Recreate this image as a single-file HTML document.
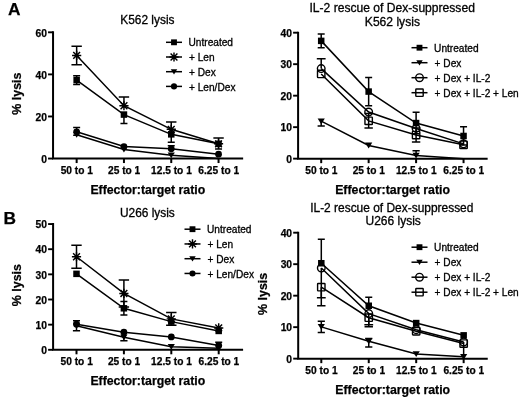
<!DOCTYPE html>
<html><head><meta charset="utf-8"><style>
html,body{margin:0;padding:0;background:#fff;}
svg{display:block;font-family:"Liberation Sans", sans-serif;will-change:transform;}
</style></head><body>
<svg width="520" height="400" viewBox="0 0 520 400" font-family='"Liberation Sans", sans-serif'>
<defs><filter id="bl" x="0" y="0" width="100%" height="100%"><feGaussianBlur stdDeviation="0.3"/></filter></defs>
<rect width="520" height="400" fill="#fff"/>
<g filter="url(#bl)">
<text x="7.9" y="15" font-size="17.3" font-weight="bold" stroke="#000" stroke-width="0.25" text-anchor="start">A</text>
<text x="3.6" y="223.8" font-size="17.3" font-weight="bold" stroke="#000" stroke-width="0.25" text-anchor="start">B</text>
<path d="M76.65,134.77L123.95,149.5L171.25,155.18L218.55,158.55" stroke="#000" stroke-width="1.5" fill="none"/>
<path d="M76.65,131.83L123.95,146.56L171.25,148.87L218.55,154.13" stroke="#000" stroke-width="1.5" fill="none"/>
<path d="M76.65,80.07L123.95,114.58L171.25,134.35L218.55,143.82" stroke="#000" stroke-width="1.5" fill="none"/>
<path d="M76.65,55.45L123.95,105.74L171.25,129.3L218.55,143.82" stroke="#000" stroke-width="1.5" fill="none"/>
<path d="M76.65,127.62V135.2M73.15,127.62H80.15M73.15,135.2H80.15" stroke="#000" stroke-width="1.5" fill="none"/>
<path d="M171.25,145.72V148.87M167.75,145.72H174.75" stroke="#000" stroke-width="1.5" fill="none"/>
<path d="M76.65,75.65V84.49M73.15,75.65H80.15M73.15,84.49H80.15" stroke="#000" stroke-width="1.5" fill="none"/>
<path d="M123.95,114.58V123.41M120.45,123.41H127.45" stroke="#000" stroke-width="1.5" fill="none"/>
<path d="M171.25,134.35V142.14M167.75,142.14H174.75" stroke="#000" stroke-width="1.5" fill="none"/>
<path d="M218.55,143.82V149.08M215.05,149.08H222.05" stroke="#000" stroke-width="1.5" fill="none"/>
<path d="M76.65,46.2V64.71M71.45,46.2H81.85M71.45,64.71H81.85" stroke="#000" stroke-width="1.5" fill="none"/>
<path d="M123.95,97.11V105.74M118.75,97.11H129.15" stroke="#000" stroke-width="1.5" fill="none"/>
<path d="M171.25,121.94V129.3M166.05,121.94H176.45" stroke="#000" stroke-width="1.5" fill="none"/>
<path d="M218.55,137.93V143.82M213.35,137.93H223.75" stroke="#000" stroke-width="1.5" fill="none"/>
<path d="M73.05,131.97H80.25L76.65,137.77Z" fill="#000"/>
<path d="M120.35,146.7H127.55L123.95,152.5Z" fill="#000"/>
<path d="M167.65,152.38H174.85L171.25,158.18Z" fill="#000"/>
<circle cx="76.65" cy="131.83" r="3.4" fill="#000"/>
<circle cx="123.95" cy="146.56" r="3.4" fill="#000"/>
<circle cx="171.25" cy="148.87" r="3.4" fill="#000"/>
<circle cx="218.55" cy="154.13" r="3.4" fill="#000"/>
<rect x="73.4" y="76.82" width="6.5" height="6.5" fill="#000"/>
<rect x="120.7" y="111.33" width="6.5" height="6.5" fill="#000"/>
<rect x="168" y="131.1" width="6.5" height="6.5" fill="#000"/>
<rect x="215.3" y="140.57" width="6.5" height="6.5" fill="#000"/>
<path d="M72.05,55.45H81.25M76.65,50.85V60.05M73.25,52.05L80.05,58.86M73.25,58.86L80.05,52.05" stroke="#000" stroke-width="1.45" fill="none"/>
<path d="M119.35,105.74H128.55M123.95,101.14V110.34M120.55,102.34L127.35,109.14M120.55,109.14L127.35,102.34" stroke="#000" stroke-width="1.45" fill="none"/>
<path d="M166.65,129.3H175.85M171.25,124.7V133.9M167.85,125.9L174.65,132.71M167.85,132.71L174.65,125.9" stroke="#000" stroke-width="1.45" fill="none"/>
<path d="M213.95,143.82H223.15M218.55,139.22V148.42M215.15,140.42L221.95,147.23M215.15,147.23L221.95,140.42" stroke="#000" stroke-width="1.45" fill="none"/>
<path d="M53.05,32.31V158.55H242.15" stroke="#000" stroke-width="2" fill="none" stroke-linecap="square"/>
<path d="M48.05,158.55H53.05" stroke="#000" stroke-width="1.9" fill="none"/>
<text x="46.95" y="162.75" font-size="10.3" font-weight="bold" stroke="#000" stroke-width="0.25" text-anchor="end">0</text>
<path d="M48.05,116.47H53.05" stroke="#000" stroke-width="1.9" fill="none"/>
<text x="46.95" y="120.67" font-size="10.3" font-weight="bold" stroke="#000" stroke-width="0.25" text-anchor="end">20</text>
<path d="M48.05,74.39H53.05" stroke="#000" stroke-width="1.9" fill="none"/>
<text x="46.95" y="78.59" font-size="10.3" font-weight="bold" stroke="#000" stroke-width="0.25" text-anchor="end">40</text>
<path d="M48.05,32.31H53.05" stroke="#000" stroke-width="1.9" fill="none"/>
<text x="46.95" y="36.51" font-size="10.3" font-weight="bold" stroke="#000" stroke-width="0.25" text-anchor="end">60</text>
<path d="M76.65,158.55V163.05" stroke="#000" stroke-width="2" fill="none"/>
<text x="76.85" y="173.75" font-size="10.2" font-weight="bold" stroke="#000" stroke-width="0.25" text-anchor="middle">50 to 1</text>
<path d="M123.95,158.55V163.05" stroke="#000" stroke-width="2" fill="none"/>
<text x="124.15" y="173.75" font-size="10.2" font-weight="bold" stroke="#000" stroke-width="0.25" text-anchor="middle">25 to 1</text>
<path d="M171.25,158.55V163.05" stroke="#000" stroke-width="2" fill="none"/>
<text x="171.45" y="173.75" font-size="10.2" font-weight="bold" stroke="#000" stroke-width="0.25" text-anchor="middle">12.5 to 1</text>
<path d="M218.55,158.55V163.05" stroke="#000" stroke-width="2" fill="none"/>
<text x="218.75" y="173.75" font-size="10.2" font-weight="bold" stroke="#000" stroke-width="0.25" text-anchor="middle">6.25 to 1</text>
<text x="147.8" y="193.55" font-size="12.3" font-weight="bold" stroke="#000" stroke-width="0.25" text-anchor="middle">Effector:target ratio</text>
<text x="0" y="0" font-size="12.4" font-weight="bold" stroke="#000" stroke-width="0.25" text-anchor="middle" transform="translate(21,93.63) rotate(-90)">% lysis</text>
<text x="147.4" y="24.2" font-size="11.9" stroke="#000" stroke-width="0.3" text-anchor="middle">K562 lysis</text>
<path d="M166,42.3H182" stroke="#000" stroke-width="1.5" fill="none"/>
<rect x="171.07" y="39.38" width="5.85" height="5.85" fill="#000"/>
<text x="188.5" y="46.4" font-size="10.15" stroke="#000" stroke-width="0.3" text-anchor="start">Untreated</text>
<path d="M166,57H182" stroke="#000" stroke-width="1.5" fill="none"/>
<path d="M169.4,57H178.6M174,52.4V61.6M170.6,53.6L177.4,60.4M170.6,60.4L177.4,53.6" stroke="#000" stroke-width="1.45" fill="none"/>
<text x="189" y="61.1" font-size="10.15" stroke="#000" stroke-width="0.3" text-anchor="start">+ Len</text>
<path d="M166,71.7H182" stroke="#000" stroke-width="1.5" fill="none"/>
<path d="M170.76,69.18H177.24L174,74.4Z" fill="#000"/>
<text x="189" y="75.8" font-size="10.15" stroke="#000" stroke-width="0.3" text-anchor="start">+ Dex</text>
<path d="M166,86.4H182" stroke="#000" stroke-width="1.5" fill="none"/>
<circle cx="174" cy="86.4" r="3.06" fill="#000"/>
<text x="189" y="90.5" font-size="10.15" stroke="#000" stroke-width="0.3" text-anchor="start">+ Len/Dex</text>
<path d="M321.2,121.18L368.65,145.42L416.1,155.5L463.55,158.65" stroke="#000" stroke-width="1.5" fill="none"/>
<path d="M321.2,73.94L368.65,120.86L416.1,135.03L463.55,144.79" stroke="#000" stroke-width="1.5" fill="none"/>
<path d="M321.2,68.59L368.65,112.04L416.1,128.42L463.55,143.85" stroke="#000" stroke-width="1.5" fill="none"/>
<path d="M321.2,40.88L368.65,91.58L416.1,123.07L463.55,135.98" stroke="#000" stroke-width="1.5" fill="none"/>
<path d="M321.2,121.18V125.9M317.6,125.9H324.8" stroke="#000" stroke-width="1.5" fill="none"/>
<path d="M416.1,150.78V155.5M412.5,150.78H419.7" stroke="#000" stroke-width="1.5" fill="none"/>
<path d="M368.65,113.62V128.1M364.45,113.62H372.85M364.45,128.1H372.85" stroke="#000" stroke-width="1.5" fill="none"/>
<path d="M416.1,128.1V141.96M411.9,128.1H420.3M411.9,141.96H420.3" stroke="#000" stroke-width="1.5" fill="none"/>
<path d="M321.2,58.83V68.59M316.8,58.83H325.6" stroke="#000" stroke-width="1.5" fill="none"/>
<path d="M321.2,33.95V47.81M317.7,33.95H324.7M317.7,47.81H324.7" stroke="#000" stroke-width="1.5" fill="none"/>
<path d="M368.65,77.41V105.75M365.15,77.41H372.15M365.15,105.75H372.15" stroke="#000" stroke-width="1.5" fill="none"/>
<path d="M416.1,112.36V133.77M412.6,112.36H419.6M412.6,133.77H419.6" stroke="#000" stroke-width="1.5" fill="none"/>
<path d="M463.55,126.85V145.11M460.05,126.85H467.05M460.05,145.11H467.05" stroke="#000" stroke-width="1.5" fill="none"/>
<path d="M317.6,118.38H324.8L321.2,124.18Z" fill="#000"/>
<path d="M365.05,142.62H372.25L368.65,148.42Z" fill="#000"/>
<path d="M412.5,152.7H419.7L416.1,158.5Z" fill="#000"/>
<rect x="317.5" y="70.24" width="7.4" height="7.4" rx="0.6" fill="none" stroke="#000" stroke-width="1.4"/>
<rect x="364.95" y="117.16" width="7.4" height="7.4" rx="0.6" fill="none" stroke="#000" stroke-width="1.4"/>
<rect x="412.4" y="131.33" width="7.4" height="7.4" rx="0.6" fill="none" stroke="#000" stroke-width="1.4"/>
<rect x="459.85" y="141.09" width="7.4" height="7.4" rx="0.6" fill="none" stroke="#000" stroke-width="1.4"/>
<circle cx="321.2" cy="68.59" r="3.8" fill="none" stroke="#000" stroke-width="1.4"/>
<circle cx="368.65" cy="112.04" r="3.8" fill="none" stroke="#000" stroke-width="1.4"/>
<circle cx="416.1" cy="128.42" r="3.8" fill="none" stroke="#000" stroke-width="1.4"/>
<circle cx="463.55" cy="143.85" r="3.8" fill="none" stroke="#000" stroke-width="1.4"/>
<rect x="317.95" y="37.63" width="6.5" height="6.5" fill="#000"/>
<rect x="365.4" y="88.33" width="6.5" height="6.5" fill="#000"/>
<rect x="412.85" y="119.82" width="6.5" height="6.5" fill="#000"/>
<rect x="460.3" y="132.73" width="6.5" height="6.5" fill="#000"/>
<path d="M298.1,32.69V158.65H486.65" stroke="#000" stroke-width="2" fill="none" stroke-linecap="square"/>
<path d="M293.1,158.65H298.1" stroke="#000" stroke-width="1.9" fill="none"/>
<text x="292" y="162.85" font-size="10.3" font-weight="bold" stroke="#000" stroke-width="0.25" text-anchor="end">0</text>
<path d="M293.1,127.16H298.1" stroke="#000" stroke-width="1.9" fill="none"/>
<text x="292" y="131.36" font-size="10.3" font-weight="bold" stroke="#000" stroke-width="0.25" text-anchor="end">10</text>
<path d="M293.1,95.67H298.1" stroke="#000" stroke-width="1.9" fill="none"/>
<text x="292" y="99.87" font-size="10.3" font-weight="bold" stroke="#000" stroke-width="0.25" text-anchor="end">20</text>
<path d="M293.1,64.18H298.1" stroke="#000" stroke-width="1.9" fill="none"/>
<text x="292" y="68.38" font-size="10.3" font-weight="bold" stroke="#000" stroke-width="0.25" text-anchor="end">30</text>
<path d="M293.1,32.69H298.1" stroke="#000" stroke-width="1.9" fill="none"/>
<text x="292" y="36.89" font-size="10.3" font-weight="bold" stroke="#000" stroke-width="0.25" text-anchor="end">40</text>
<path d="M321.2,158.65V163.15" stroke="#000" stroke-width="2" fill="none"/>
<text x="321.4" y="173.85" font-size="10.2" font-weight="bold" stroke="#000" stroke-width="0.25" text-anchor="middle">50 to 1</text>
<path d="M368.65,158.65V163.15" stroke="#000" stroke-width="2" fill="none"/>
<text x="368.85" y="173.85" font-size="10.2" font-weight="bold" stroke="#000" stroke-width="0.25" text-anchor="middle">25 to 1</text>
<path d="M416.1,158.65V163.15" stroke="#000" stroke-width="2" fill="none"/>
<text x="416.3" y="173.85" font-size="10.2" font-weight="bold" stroke="#000" stroke-width="0.25" text-anchor="middle">12.5 to 1</text>
<path d="M463.55,158.65V163.15" stroke="#000" stroke-width="2" fill="none"/>
<text x="463.75" y="173.85" font-size="10.2" font-weight="bold" stroke="#000" stroke-width="0.25" text-anchor="middle">6.25 to 1</text>
<text x="392.57" y="193.65" font-size="12.3" font-weight="bold" stroke="#000" stroke-width="0.25" text-anchor="middle">Effector:target ratio</text>
<text x="392.2" y="11.8" font-size="12.1" stroke="#000" stroke-width="0.3" text-anchor="middle">IL-2 rescue of Dex-suppressed</text>
<text x="392.4" y="25.6" font-size="12.1" stroke="#000" stroke-width="0.3" text-anchor="middle">K562 lysis</text>
<path d="M411.5,47.7H427.5" stroke="#000" stroke-width="1.5" fill="none"/>
<rect x="416.57" y="44.78" width="5.85" height="5.85" fill="#000"/>
<text x="434.1" y="51.8" font-size="10.15" stroke="#000" stroke-width="0.3" text-anchor="start">Untreated</text>
<path d="M411.5,62.7H427.5" stroke="#000" stroke-width="1.5" fill="none"/>
<path d="M416.26,60.18H422.74L419.5,65.4Z" fill="#000"/>
<text x="434.6" y="66.8" font-size="10.15" stroke="#000" stroke-width="0.3" text-anchor="start">+ Dex</text>
<path d="M411.5,77.7H427.5" stroke="#000" stroke-width="1.5" fill="none"/>
<circle cx="419.5" cy="77.7" r="3.8" fill="none" stroke="#000" stroke-width="1.4"/>
<text x="434.6" y="81.8" font-size="10.15" stroke="#000" stroke-width="0.3" text-anchor="start">+ Dex + IL-2</text>
<path d="M411.5,92.7H427.5" stroke="#000" stroke-width="1.5" fill="none"/>
<rect x="415.8" y="89" width="7.4" height="7.4" rx="0.6" fill="none" stroke="#000" stroke-width="1.4"/>
<text x="434.6" y="96.8" font-size="10.15" stroke="#000" stroke-width="0.3" text-anchor="start">+ Dex + IL-2 + Len</text>
<path d="M76.5,325.66L123.9,337.23L171.3,346.78L218.7,348.29" stroke="#000" stroke-width="1.5" fill="none"/>
<path d="M76.5,324.15L123.9,332.19L171.3,336.97L218.7,345.52" stroke="#000" stroke-width="1.5" fill="none"/>
<path d="M76.5,273.85L123.9,308.3L171.3,321.63L218.7,330.94" stroke="#000" stroke-width="1.5" fill="none"/>
<path d="M76.5,256.75L123.9,293.46L171.3,318.87L218.7,327.92" stroke="#000" stroke-width="1.5" fill="none"/>
<path d="M76.5,325.66V330.81M72.9,330.81H80.1" stroke="#000" stroke-width="1.5" fill="none"/>
<path d="M123.9,337.23V340.75M120.3,340.75H127.5" stroke="#000" stroke-width="1.5" fill="none"/>
<path d="M76.5,320.63V324.15M73,320.63H80" stroke="#000" stroke-width="1.5" fill="none"/>
<path d="M218.7,342.25V345.52M215.2,342.25H222.2" stroke="#000" stroke-width="1.5" fill="none"/>
<path d="M123.9,301.51V315.09M120.4,301.51H127.4M120.4,315.09H127.4" stroke="#000" stroke-width="1.5" fill="none"/>
<path d="M76.5,245.18V268.31M71.3,245.18H81.7M71.3,268.31H81.7" stroke="#000" stroke-width="1.5" fill="none"/>
<path d="M123.9,279.88V307.05M118.7,279.88H129.1M118.7,307.05H129.1" stroke="#000" stroke-width="1.5" fill="none"/>
<path d="M171.3,312.58V325.15M166.1,312.58H176.5M166.1,325.15H176.5" stroke="#000" stroke-width="1.5" fill="none"/>
<path d="M72.9,322.86H80.1L76.5,328.66Z" fill="#000"/>
<path d="M120.3,334.43H127.5L123.9,340.23Z" fill="#000"/>
<path d="M167.7,343.98H174.9L171.3,349.78Z" fill="#000"/>
<path d="M215.1,345.49H222.3L218.7,351.29Z" fill="#000"/>
<circle cx="76.5" cy="324.15" r="3.4" fill="#000"/>
<circle cx="123.9" cy="332.19" r="3.4" fill="#000"/>
<circle cx="171.3" cy="336.97" r="3.4" fill="#000"/>
<circle cx="218.7" cy="345.52" r="3.4" fill="#000"/>
<rect x="73.25" y="270.6" width="6.5" height="6.5" fill="#000"/>
<rect x="120.65" y="305.05" width="6.5" height="6.5" fill="#000"/>
<rect x="168.05" y="318.38" width="6.5" height="6.5" fill="#000"/>
<rect x="215.45" y="327.69" width="6.5" height="6.5" fill="#000"/>
<path d="M71.9,256.75H81.1M76.5,252.15V261.35M73.1,253.34L79.9,260.15M73.1,260.15L79.9,253.34" stroke="#000" stroke-width="1.45" fill="none"/>
<path d="M119.3,293.46H128.5M123.9,288.86V298.06M120.5,290.06L127.3,296.87M120.5,296.87L127.3,290.06" stroke="#000" stroke-width="1.45" fill="none"/>
<path d="M166.7,318.87H175.9M171.3,314.27V323.47M167.9,315.46L174.7,322.27M167.9,322.27L174.7,315.46" stroke="#000" stroke-width="1.45" fill="none"/>
<path d="M214.1,327.92H223.3M218.7,323.32V332.52M215.3,324.52L222.1,331.32M215.3,331.32L222.1,324.52" stroke="#000" stroke-width="1.45" fill="none"/>
<path d="M53.1,224.05V349.8H242.1" stroke="#000" stroke-width="2" fill="none" stroke-linecap="square"/>
<path d="M48.1,349.8H53.1" stroke="#000" stroke-width="1.9" fill="none"/>
<text x="47" y="354" font-size="10.3" font-weight="bold" stroke="#000" stroke-width="0.25" text-anchor="end">0</text>
<path d="M48.1,324.65H53.1" stroke="#000" stroke-width="1.9" fill="none"/>
<text x="47" y="328.85" font-size="10.3" font-weight="bold" stroke="#000" stroke-width="0.25" text-anchor="end">10</text>
<path d="M48.1,299.5H53.1" stroke="#000" stroke-width="1.9" fill="none"/>
<text x="47" y="303.7" font-size="10.3" font-weight="bold" stroke="#000" stroke-width="0.25" text-anchor="end">20</text>
<path d="M48.1,274.35H53.1" stroke="#000" stroke-width="1.9" fill="none"/>
<text x="47" y="278.55" font-size="10.3" font-weight="bold" stroke="#000" stroke-width="0.25" text-anchor="end">30</text>
<path d="M48.1,249.2H53.1" stroke="#000" stroke-width="1.9" fill="none"/>
<text x="47" y="253.4" font-size="10.3" font-weight="bold" stroke="#000" stroke-width="0.25" text-anchor="end">40</text>
<path d="M48.1,224.05H53.1" stroke="#000" stroke-width="1.9" fill="none"/>
<text x="47" y="228.25" font-size="10.3" font-weight="bold" stroke="#000" stroke-width="0.25" text-anchor="end">50</text>
<path d="M76.5,349.8V354.3" stroke="#000" stroke-width="2" fill="none"/>
<text x="76.7" y="365" font-size="10.2" font-weight="bold" stroke="#000" stroke-width="0.25" text-anchor="middle">50 to 1</text>
<path d="M123.9,349.8V354.3" stroke="#000" stroke-width="2" fill="none"/>
<text x="124.1" y="365" font-size="10.2" font-weight="bold" stroke="#000" stroke-width="0.25" text-anchor="middle">25 to 1</text>
<path d="M171.3,349.8V354.3" stroke="#000" stroke-width="2" fill="none"/>
<text x="171.5" y="365" font-size="10.2" font-weight="bold" stroke="#000" stroke-width="0.25" text-anchor="middle">12.5 to 1</text>
<path d="M218.7,349.8V354.3" stroke="#000" stroke-width="2" fill="none"/>
<text x="218.9" y="365" font-size="10.2" font-weight="bold" stroke="#000" stroke-width="0.25" text-anchor="middle">6.25 to 1</text>
<text x="147.8" y="384.8" font-size="12.3" font-weight="bold" stroke="#000" stroke-width="0.25" text-anchor="middle">Effector:target ratio</text>
<text x="0" y="0" font-size="12.4" font-weight="bold" stroke="#000" stroke-width="0.25" text-anchor="middle" transform="translate(21,285.12) rotate(-90)">% lysis</text>
<text x="147.4" y="216.5" font-size="11.9" stroke="#000" stroke-width="0.3" text-anchor="middle">U266 lysis</text>
<path d="M184.5,229.2H200.5" stroke="#000" stroke-width="1.5" fill="none"/>
<rect x="189.57" y="226.27" width="5.85" height="5.85" fill="#000"/>
<text x="207" y="233.3" font-size="10.15" stroke="#000" stroke-width="0.3" text-anchor="start">Untreated</text>
<path d="M184.5,243.95H200.5" stroke="#000" stroke-width="1.5" fill="none"/>
<path d="M187.9,243.95H197.1M192.5,239.35V248.55M189.1,240.55L195.9,247.35M189.1,247.35L195.9,240.55" stroke="#000" stroke-width="1.45" fill="none"/>
<text x="207.5" y="248.05" font-size="10.15" stroke="#000" stroke-width="0.3" text-anchor="start">+ Len</text>
<path d="M184.5,258.7H200.5" stroke="#000" stroke-width="1.5" fill="none"/>
<path d="M189.26,256.18H195.74L192.5,261.4Z" fill="#000"/>
<text x="207.5" y="262.8" font-size="10.15" stroke="#000" stroke-width="0.3" text-anchor="start">+ Dex</text>
<path d="M184.5,273.45H200.5" stroke="#000" stroke-width="1.5" fill="none"/>
<circle cx="192.5" cy="273.45" r="3.06" fill="#000"/>
<text x="207.5" y="277.55" font-size="10.15" stroke="#000" stroke-width="0.3" text-anchor="start">+ Len/Dex</text>
<path d="M321.3,326.85L368.75,341.33L416.2,353.93L463.65,356.76" stroke="#000" stroke-width="1.5" fill="none"/>
<path d="M321.3,287.17L368.75,317.71L416.2,331.25L463.65,343.53" stroke="#000" stroke-width="1.5" fill="none"/>
<path d="M321.3,267.96L368.75,313.62L416.2,329.68L463.65,341.96" stroke="#000" stroke-width="1.5" fill="none"/>
<path d="M321.3,263.24L368.75,305.75L416.2,323.07L463.65,335.35" stroke="#000" stroke-width="1.5" fill="none"/>
<path d="M321.3,321.18V332.51M317.7,321.18H324.9M317.7,332.51H324.9" stroke="#000" stroke-width="1.5" fill="none"/>
<path d="M368.75,338.5V347M365.15,338.5H372.35M365.15,347H372.35" stroke="#000" stroke-width="1.5" fill="none"/>
<path d="M321.3,287.17V305.75M317.1,305.75H325.5" stroke="#000" stroke-width="1.5" fill="none"/>
<path d="M368.75,317.71V326.85M364.55,326.85H372.95" stroke="#000" stroke-width="1.5" fill="none"/>
<path d="M321.3,267.96V297.87M316.9,297.87H325.7" stroke="#000" stroke-width="1.5" fill="none"/>
<path d="M368.75,313.62V324.64M364.35,324.64H373.15" stroke="#000" stroke-width="1.5" fill="none"/>
<path d="M463.65,341.96V355.82" stroke="#000" stroke-width="1.5" fill="none"/>
<path d="M321.3,239.3V263.24M317.8,239.3H324.8" stroke="#000" stroke-width="1.5" fill="none"/>
<path d="M368.75,297.24V305.75M365.25,297.24H372.25" stroke="#000" stroke-width="1.5" fill="none"/>
<path d="M317.7,324.05H324.9L321.3,329.85Z" fill="#000"/>
<path d="M365.15,338.53H372.35L368.75,344.33Z" fill="#000"/>
<path d="M412.6,351.13H419.8L416.2,356.93Z" fill="#000"/>
<path d="M460.05,353.96H467.25L463.65,359.76Z" fill="#000"/>
<rect x="317.6" y="283.47" width="7.4" height="7.4" rx="0.6" fill="none" stroke="#000" stroke-width="1.4"/>
<rect x="365.05" y="314.01" width="7.4" height="7.4" rx="0.6" fill="none" stroke="#000" stroke-width="1.4"/>
<rect x="412.5" y="327.55" width="7.4" height="7.4" rx="0.6" fill="none" stroke="#000" stroke-width="1.4"/>
<rect x="459.95" y="339.83" width="7.4" height="7.4" rx="0.6" fill="none" stroke="#000" stroke-width="1.4"/>
<circle cx="321.3" cy="267.96" r="3.8" fill="none" stroke="#000" stroke-width="1.4"/>
<circle cx="368.75" cy="313.62" r="3.8" fill="none" stroke="#000" stroke-width="1.4"/>
<circle cx="416.2" cy="329.68" r="3.8" fill="none" stroke="#000" stroke-width="1.4"/>
<circle cx="463.65" cy="341.96" r="3.8" fill="none" stroke="#000" stroke-width="1.4"/>
<rect x="318.05" y="259.99" width="6.5" height="6.5" fill="#000"/>
<rect x="365.5" y="302.5" width="6.5" height="6.5" fill="#000"/>
<rect x="412.95" y="319.82" width="6.5" height="6.5" fill="#000"/>
<rect x="460.4" y="332.1" width="6.5" height="6.5" fill="#000"/>
<path d="M298.2,232.69V358.65H486.75" stroke="#000" stroke-width="2" fill="none" stroke-linecap="square"/>
<path d="M293.2,358.65H298.2" stroke="#000" stroke-width="1.9" fill="none"/>
<text x="292.1" y="362.85" font-size="10.3" font-weight="bold" stroke="#000" stroke-width="0.25" text-anchor="end">0</text>
<path d="M293.2,327.16H298.2" stroke="#000" stroke-width="1.9" fill="none"/>
<text x="292.1" y="331.36" font-size="10.3" font-weight="bold" stroke="#000" stroke-width="0.25" text-anchor="end">10</text>
<path d="M293.2,295.67H298.2" stroke="#000" stroke-width="1.9" fill="none"/>
<text x="292.1" y="299.87" font-size="10.3" font-weight="bold" stroke="#000" stroke-width="0.25" text-anchor="end">20</text>
<path d="M293.2,264.18H298.2" stroke="#000" stroke-width="1.9" fill="none"/>
<text x="292.1" y="268.38" font-size="10.3" font-weight="bold" stroke="#000" stroke-width="0.25" text-anchor="end">30</text>
<path d="M293.2,232.69H298.2" stroke="#000" stroke-width="1.9" fill="none"/>
<text x="292.1" y="236.89" font-size="10.3" font-weight="bold" stroke="#000" stroke-width="0.25" text-anchor="end">40</text>
<path d="M321.3,358.65V363.15" stroke="#000" stroke-width="2" fill="none"/>
<text x="321.5" y="373.85" font-size="10.2" font-weight="bold" stroke="#000" stroke-width="0.25" text-anchor="middle">50 to 1</text>
<path d="M368.75,358.65V363.15" stroke="#000" stroke-width="2" fill="none"/>
<text x="368.95" y="373.85" font-size="10.2" font-weight="bold" stroke="#000" stroke-width="0.25" text-anchor="middle">25 to 1</text>
<path d="M416.2,358.65V363.15" stroke="#000" stroke-width="2" fill="none"/>
<text x="416.4" y="373.85" font-size="10.2" font-weight="bold" stroke="#000" stroke-width="0.25" text-anchor="middle">12.5 to 1</text>
<path d="M463.65,358.65V363.15" stroke="#000" stroke-width="2" fill="none"/>
<text x="463.85" y="373.85" font-size="10.2" font-weight="bold" stroke="#000" stroke-width="0.25" text-anchor="middle">6.25 to 1</text>
<text x="392.68" y="393.65" font-size="12.3" font-weight="bold" stroke="#000" stroke-width="0.25" text-anchor="middle">Effector:target ratio</text>
<text x="0" y="0" font-size="12.4" font-weight="bold" stroke="#000" stroke-width="0.25" text-anchor="middle" transform="translate(266.5,293.87) rotate(-90)">% lysis</text>
<text x="391.8" y="211.5" font-size="11.95" stroke="#000" stroke-width="0.3" text-anchor="middle">IL-2 rescue of Dex-suppressed</text>
<text x="393.2" y="225.3" font-size="12.0" stroke="#000" stroke-width="0.3" text-anchor="middle">U266 lysis</text>
<path d="M411.5,247.2H427.5" stroke="#000" stroke-width="1.5" fill="none"/>
<rect x="416.57" y="244.27" width="5.85" height="5.85" fill="#000"/>
<text x="434.1" y="251.3" font-size="10.15" stroke="#000" stroke-width="0.3" text-anchor="start">Untreated</text>
<path d="M411.5,262.2H427.5" stroke="#000" stroke-width="1.5" fill="none"/>
<path d="M416.26,259.68H422.74L419.5,264.9Z" fill="#000"/>
<text x="434.6" y="266.3" font-size="10.15" stroke="#000" stroke-width="0.3" text-anchor="start">+ Dex</text>
<path d="M411.5,277.2H427.5" stroke="#000" stroke-width="1.5" fill="none"/>
<circle cx="419.5" cy="277.2" r="3.8" fill="none" stroke="#000" stroke-width="1.4"/>
<text x="434.6" y="281.3" font-size="10.15" stroke="#000" stroke-width="0.3" text-anchor="start">+ Dex + IL-2</text>
<path d="M411.5,292.2H427.5" stroke="#000" stroke-width="1.5" fill="none"/>
<rect x="415.8" y="288.5" width="7.4" height="7.4" rx="0.6" fill="none" stroke="#000" stroke-width="1.4"/>
<text x="434.6" y="296.3" font-size="10.15" stroke="#000" stroke-width="0.3" text-anchor="start">+ Dex + IL-2 + Len</text>
</g>
</svg>
</body></html>
